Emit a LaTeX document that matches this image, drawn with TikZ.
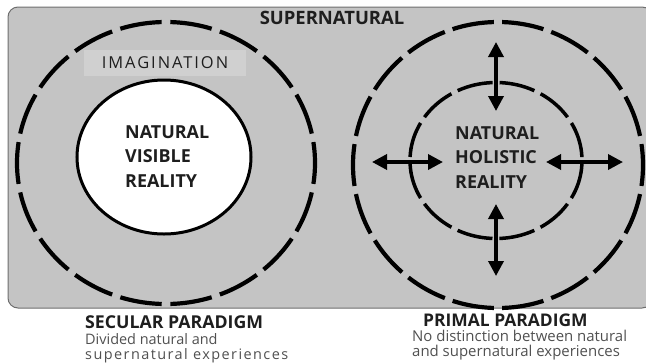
\documentclass[tikz,border=0pt]{standalone}
\usepackage{fontspec}
\setmainfont{Open Sans}
\newfontfamily\spacedfont[LetterSpace=12]{Open Sans}
\newfontfamily\looseface[LetterSpace=10]{Open Sans}
\usetikzlibrary{arrows.meta}
\definecolor{panelgray}{RGB}{196,196,196}
\definecolor{labelgray}{RGB}{208,208,208}
\definecolor{edgegray}{RGB}{110,110,110}
\definecolor{inkdark}{RGB}{30,30,30}
\definecolor{notegray}{RGB}{80,80,80}

\begin{document}
\begin{tikzpicture}[x=1bp,y=-1bp,
  title/.style={font=\fontsize{18.5}{20}\selectfont\bfseries, text=inkdark, inner sep=0pt, anchor=base},
  core/.style={font=\fontsize{18}{20}\selectfont\bfseries, text=inkdark, inner sep=0pt, anchor=base west},
  head/.style={font=\fontsize{17.8}{20}\selectfont\bfseries, text=inkdark, inner sep=0pt, anchor=base west},
  note/.style={font=\fontsize{14.5}{16}\selectfont, text=notegray, inner sep=0pt, anchor=base west},
  twoway/.style={{Triangle[length=15bp,width=15bp]}-{Triangle[length=15bp,width=15bp]}, line width=3.5bp, black},
]
\useasboundingbox (0,0) rectangle (646,362);

% grey panel standing for the supernatural realm
\begin{scope}
  \clip (0,0) rectangle (646,362);
  \draw[fill=panelgray, draw=edgegray, line width=1bp, rounded corners=10bp]
    (8,7) rectangle (652,308);
\end{scope}
\node[title] (supernatural) at (332,24) {SUPERNATURAL};

% ---- secular paradigm ----
% imagination ring, drawn from its top point
\draw[line width=4.2bp, dash pattern=on 42bp off 8.63bp, dash phase=46.3bp]
  (166,22) arc[start angle=90, end angle=450, x radius=149bp, y radius=141bp];
\node[fill=labelgray, minimum width=162bp, minimum height=26bp, inner sep=0pt]
  (imagination) at (165,63)
  {\fontsize{16.5}{18}\spacedfont\color{inkdark}IMAGINATION};
% visible reality
\draw[line width=3bp, fill=white] (164,157) ellipse[x radius=87bp, y radius=77bp];
\node[core] (nvr1) at (125,138) {NATURAL};
\node[core] (nvr2) at (125,162) {VISIBLE};
\node[core] (nvr3) at (125,187) {REALITY};

% ---- primal paradigm ----
\draw[line width=4.2bp, dash pattern=on 42bp off 8.27bp, dash phase=46.1bp]
  (498,22) arc[start angle=90, end angle=450, x radius=145bp, y radius=143bp];
\draw[line width=3.5bp, dash pattern=on 36bp off 6.96bp, dash phase=39.5bp]
  (496,82.5) arc[start angle=90, end angle=450, x radius=86bp, y radius=78bp];
\node[core] (nhr1) at (455,139) {NATURAL};
\node[core] (nhr2) at (455,163) {HOLISTIC};
\node[core] (nhr3) at (455,188) {REALITY};

% exchange between the realms
\coordinate (upA) at (496,42);
\coordinate (upB) at (496,111);
\coordinate (dnA) at (496,204);
\coordinate (dnB) at (496,276);
\coordinate (lfA) at (372,162);
\coordinate (lfB) at (443,162);
\coordinate (rtA) at (546,162);
\coordinate (rtB) at (623,162);
\draw[twoway] (upA) -- (upB);
\draw[twoway] (dnA) -- (dnB);
\draw[twoway] (lfA) -- (lfB);
\draw[twoway] (rtA) -- (rtB);

% captions
\node[head] (secular) at (85,328) {SECULAR PARADIGM};
\node[note] (sec1) at (85,344) {Divided natural and};
\node[note, font=\fontsize{14.5}{16}\looseface] (sec2) at (85,359) {supernatural experiences};
\node[head, font=\fontsize{17.5}{20}\selectfont\bfseries] (primal) at (423,326) {PRIMAL PARADIGM};
\node[note, font=\fontsize{15}{16}\selectfont] (pri1) at (412,341) {No distinction between natural};
\node[note, font=\fontsize{15}{16}\selectfont] (pri2) at (412,356) {and supernatural experiences};
\end{tikzpicture}
\end{document}
